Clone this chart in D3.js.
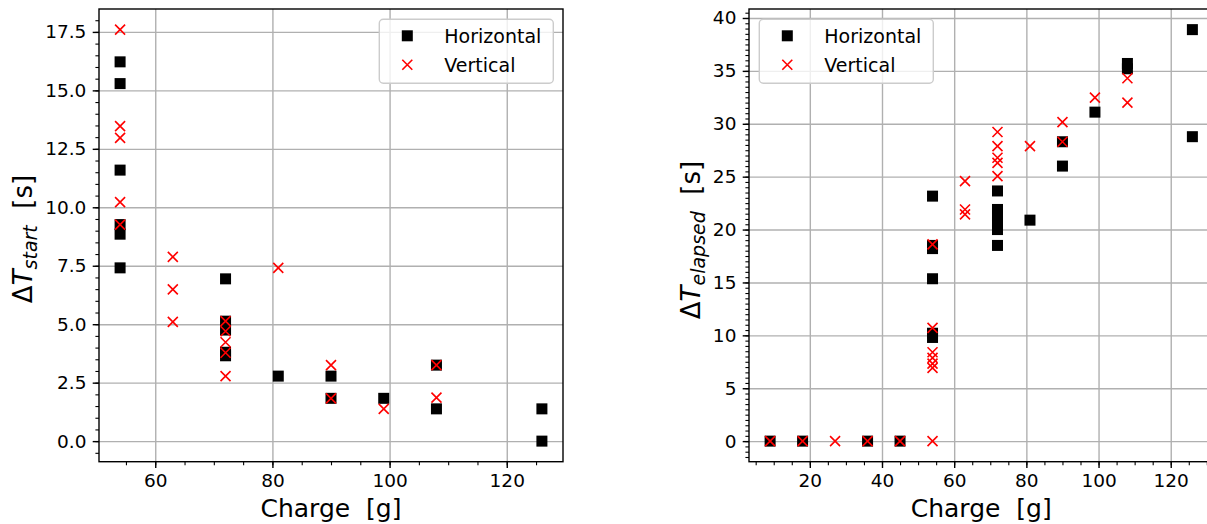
<!DOCTYPE html>
<html>
<head>
<meta charset="utf-8">
<script src="https://cdn.jsdelivr.net/npm/d3@7"></script>
<style>
  body { margin: 0; background: #fff; }
  svg { font-family: "DejaVu Sans", sans-serif; }
</style>
</head>
<body>
<svg id="chart" width="1207" height="524"></svg>
<script>
// left panel: delay at start vs charge
const startHorizCharge = [54, 54, 54, 54, 54, 54, 72, 72, 72, 72, 72, 81, 90, 90, 99, 108, 108, 126, 126];
const startHorizDelay = [16.22, 15.29, 11.59, 9.26, 8.85, 7.41, 6.94, 5.13, 4.75, 3.8, 3.65, 2.78, 2.78, 1.83, 1.83, 3.25, 1.38, 1.38, 0];
const startVertCharge = [54, 54, 54, 54, 54, 63, 63, 63, 72, 72, 72, 72, 72, 81, 90, 90, 99, 108, 108];
const startVertDelay = [17.6, 13.47, 12.97, 10.22, 9.26, 7.88, 6.49, 5.1, 5.13, 4.7, 4.23, 3.78, 2.78, 7.41, 3.25, 1.83, 1.38, 3.25, 1.86];

// right panel: elapsed time vs charge
const elapHorizCharge = [9, 18, 36, 45, 54, 54, 54, 54, 54, 54, 72, 72, 72, 72, 72, 72, 81, 90, 90, 99, 108, 108, 126, 126];
const elapHorizTime = [0, 0, 0, 0, 23.16, 18.5, 18.2, 15.35, 10.2, 9.8, 23.65, 21.9, 21.3, 20.7, 20.0, 18.5, 20.89, 28.3, 26.0, 31.1, 35.7, 35.2, 38.9, 28.78];
const elapVertCharge = [9, 18, 27, 36, 45, 54, 54, 54, 54, 54, 54, 54, 63, 63, 63, 72, 72, 72, 72, 72, 81, 90, 90, 99, 108, 108];
const elapVertTime = [0, 0, 0, 0, 0, 0, 18.6, 10.7, 8.4, 7.87, 7.33, 6.92, 24.58, 21.9, 21.43, 29.22, 27.89, 26.79, 26.3, 25.05, 27.89, 30.16, 28.3, 32.47, 34.3, 32.0];

const startYTicks = [0, 2.5, 5, 7.5, 10, 12.5, 15, 17.5];
const startXTicks = [60, 80, 100, 120];
const elapYTicks = [0, 5, 10, 15, 20, 25, 30, 35, 40];
const elapXTicks = [20, 40, 60, 80, 100, 120];
const legendNames = ["Horizontal", "Vertical"];

const svg = d3.select("#chart");

function range(a, b, step) {
  const out = [];
  for (let v = a; v <= b + 1e-9; v += step) out.push(+v.toFixed(3));
  return out;
}

function drawPanel(p) {
  const x = d3.scaleLinear().domain(p.xDomain).range([p.left, p.right]);
  const y = d3.scaleLinear().domain(p.yDomain).range([p.bottom, p.top]);
  const h = p.bottom - p.top;
  const w = p.right - p.left;

  const g = svg.append("g");

  // grid lines
  g.append("g")
    .attr("transform", `translate(0,${p.bottom})`)
    .call(d3.axisBottom(x).tickValues(p.xTicks).tickSize(-h).tickFormat(""))
    .call(s => s.select(".domain").remove())
    .selectAll("line").attr("stroke", "#b0b0b0").attr("stroke-width", 1.4);
  g.append("g")
    .attr("transform", `translate(${p.left},0)`)
    .call(d3.axisLeft(y).tickValues(p.yTicks).tickSize(-w).tickFormat(""))
    .call(s => s.select(".domain").remove())
    .selectAll("line").attr("stroke", "#b0b0b0").attr("stroke-width", 1.4);

  // markers: squares first, crosses on top
  g.append("g").selectAll("rect")
    .data(d3.zip(p.hx, p.hy)).join("rect")
    .attr("x", d => x(d[0]) - 5.5)
    .attr("y", d => y(d[1]) - 5.5)
    .attr("width", 11).attr("height", 11)
    .attr("fill", "#000");
  g.append("g").selectAll("path")
    .data(d3.zip(p.vx, p.vy)).join("path")
    .attr("d", d => {
      const cx = x(d[0]), cy = y(d[1]), r = 5;
      return `M${cx - r},${cy - r}L${cx + r},${cy + r}M${cx - r},${cy + r}L${cx + r},${cy - r}`;
    })
    .attr("stroke", "#ff0000").attr("stroke-width", 1.6).attr("fill", "none");

  // minor ticks
  g.append("g")
    .attr("transform", `translate(0,${p.bottom})`)
    .call(d3.axisBottom(x).tickValues(p.xMinor).tickSize(3.6).tickFormat(""))
    .call(s => s.select(".domain").remove())
    .selectAll("line").attr("stroke-width", 1.1);
  g.append("g")
    .attr("transform", `translate(${p.left},0)`)
    .call(d3.axisLeft(y).tickValues(p.yMinor).tickSize(3.6).tickFormat(""))
    .call(s => s.select(".domain").remove())
    .selectAll("line").attr("stroke-width", 1.1);

  // major ticks + labels
  const xAxis = g.append("g")
    .attr("transform", `translate(0,${p.bottom})`)
    .call(d3.axisBottom(x).tickValues(p.xTicks).tickSize(6.3).tickPadding(6.3).tickFormat(d3.format("d")));
  const yAxis = g.append("g")
    .attr("transform", `translate(${p.left},0)`)
    .call(d3.axisLeft(y).tickValues(p.yTicks).tickSize(6.3).tickPadding(6.3).tickFormat(p.yFormat));
  [xAxis, yAxis].forEach(a => {
    a.select(".domain").remove();
    a.selectAll("line").attr("stroke-width", 1.4);
    a.selectAll("text").attr("font-size", 18.5).attr("fill", "#000")
      .attr("font-family", "DejaVu Sans");
  });

  // spines
  g.append("rect")
    .attr("x", p.left).attr("y", p.top).attr("width", w).attr("height", h)
    .attr("fill", "none").attr("stroke", "#000").attr("stroke-width", 1.4);

  // x label
  g.append("text")
    .attr("x", (p.left + p.right) / 2).attr("y", 517)
    .attr("text-anchor", "middle").attr("font-size", 25)
    .attr("xml:space", "preserve")
    .text("Charge  [g]");

  // y label (rotated), centred like matplotlib does
  const t = g.append("text")
    .attr("transform", `translate(${p.ylabelX},${p.ylabelY}) rotate(-90)`)
    .attr("text-anchor", "middle").attr("font-size", 26)
    .attr("xml:space", "preserve");
  t.append("tspan").text("Δ");
  t.append("tspan").attr("font-style", "italic").text("T");
  t.append("tspan").attr("font-style", "italic").attr("font-size", 19).attr("dy", 4.5).text(p.sub);
  t.append("tspan").attr("dy", -4.5).text("  [s]");

  // legend
  const lg = g.append("g");
  lg.append("rect")
    .attr("x", p.legend[0]).attr("y", p.legend[1])
    .attr("width", 174).attr("height", 64).attr("rx", 4)
    .attr("fill", "#fff").attr("fill-opacity", 0.8)
    .attr("stroke", "#cccccc").attr("stroke-width", 1.4);
  const mx = p.legend[0] + 28, tx = p.legend[0] + 65;
  const rows = [p.legend[1] + 16.5, p.legend[1] + 45.5];
  lg.append("rect").attr("x", mx - 5.5).attr("y", rows[0] - 5.5)
    .attr("width", 11).attr("height", 11).attr("fill", "#000");
  lg.append("path")
    .attr("d", `M${mx - 5},${rows[1] - 5}L${mx + 5},${rows[1] + 5}M${mx - 5},${rows[1] + 5}L${mx + 5},${rows[1] - 5}`)
    .attr("stroke", "#ff0000").attr("stroke-width", 1.6);
  lg.selectAll("text.leg").data(legendNames).join("text")
    .attr("class", "leg")
    .attr("x", tx).attr("y", (d, i) => rows[i] + 7)
    .attr("font-size", 19)
    .text(d => d);
}

drawPanel({
  left: 99, right: 563, top: 9, bottom: 461.7,
  xDomain: [50.4, 129.6], yDomain: [-0.88, 18.48],
  xTicks: startXTicks, yTicks: startYTicks,
  xMinor: range(55, 125, 5), yMinor: range(-0.5, 18, 0.5),
  yFormat: d3.format(".1f"),
  hx: startHorizCharge, hy: startHorizDelay,
  vx: startVertCharge, vy: startVertDelay,
  sub: "start", ylabelX: 32, ylabelY: 239,
  legend: [379.3, 19.3]
});

drawPanel({
  left: 749, right: 1213.5, top: 9, bottom: 461.7,
  xDomain: [3.15, 131.85], yDomain: [-1.945, 40.85],
  xTicks: elapXTicks, yTicks: elapYTicks,
  xMinor: range(5, 130, 5), yMinor: range(-1.5, 40.5, 0.5),
  yFormat: d3.format("d"),
  hx: elapHorizCharge, hy: elapHorizTime,
  vx: elapVertCharge, vy: elapVertTime,
  sub: "elapsed", ylabelX: 700, ylabelY: 240,
  legend: [759.3, 19.3]
});
</script>
</body>
</html>
